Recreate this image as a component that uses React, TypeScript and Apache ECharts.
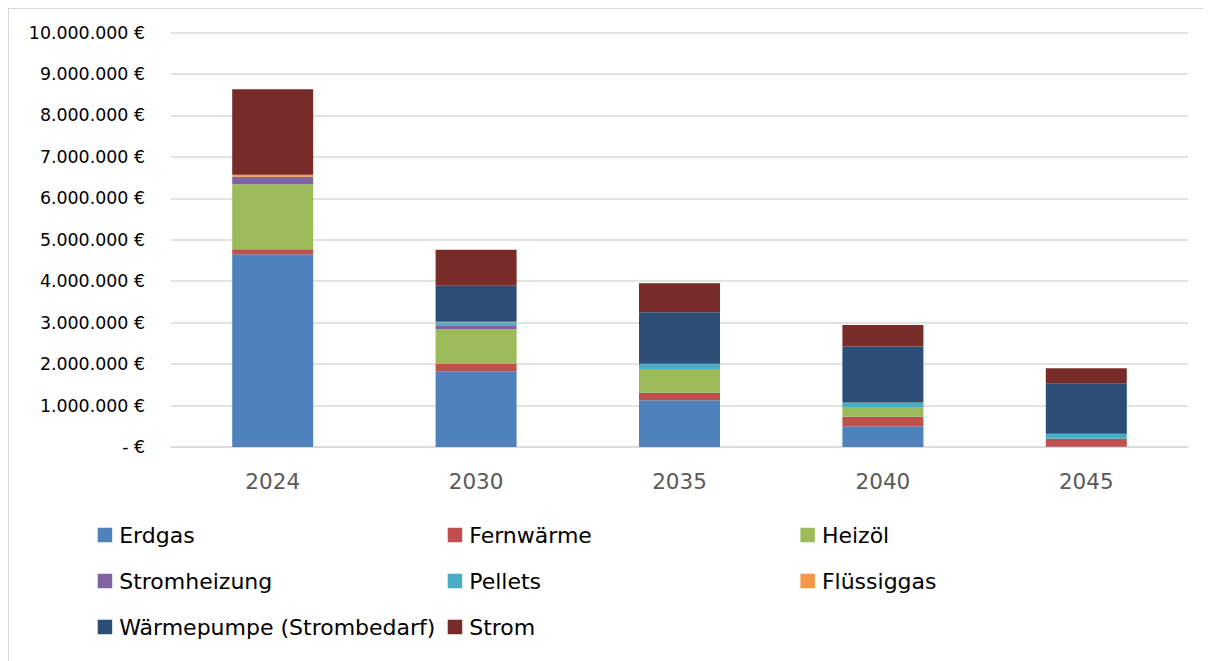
import React, { useEffect, useRef } from "react";
import * as echarts from "echarts";

const years = ["2024", "2030", "2035", "2040", "2045"];
const erdgas = [4650000, 1830000, 1130000, 500000, 10000];
const fernwaerme = [120000, 170000, 180000, 230000, 190000];
const heizoel = [1570000, 840000, 570000, 235000, 0];
const stromheizung = [180000, 100000, 0, 0, 0];
const pellets = [0, 70000, 130000, 110000, 120000];
const fluessiggas = [50000, 10000, 0, 0, 0];
const waermepumpe = [0, 870000, 1240000, 1350000, 1220000];
const strom = [2060000, 870000, 700000, 520000, 360000];

const seriesDefs = [
  { name: "Erdgas", data: erdgas, color: "#4F81BD" },
  { name: "Fernwärme", data: fernwaerme, color: "#C0504D" },
  { name: "Heizöl", data: heizoel, color: "#9BBB59" },
  { name: "Stromheizung", data: stromheizung, color: "#8064A2" },
  { name: "Pellets", data: pellets, color: "#4BACC6" },
  { name: "Flüssiggas", data: fluessiggas, color: "#F79646" },
  { name: "Wärmepumpe (Strombedarf)", data: waermepumpe, color: "#2C4D75" },
  { name: "Strom", data: strom, color: "#772C2A" },
];

const FONT = "DejaVu Sans";

function fmt(v: number) {
  if (v === 0) return "- €";
  return String(v).replace(/\B(?=(\d{3})+(?!\d))/g, ".") + " €";
}

function legendAt(left: number, names: string[]) {
  return {
    orient: "vertical",
    left,
    top: 509,
    itemWidth: 14.5,
    itemHeight: 14.5,
    itemGap: 22,
    icon: "rect",
    selectedMode: false,
    data: names,
    textStyle: {
      fontFamily: FONT,
      fontSize: 22,
      color: "#000",
      lineHeight: 24,
      padding: [0, 0, 0, 2],
    },
  };
}

export default function App() {
  const ref = useRef<HTMLDivElement>(null);
  useEffect(() => {
    document.documentElement.style.overflow = "hidden";
    document.body.style.overflow = "hidden";
    document.body.style.margin = "8px 8px 0 8px";
    const chart = echarts.init(ref.current!, undefined, { renderer: "svg" });
    chart.setOption({
      animation: false,
      grid: { left: 162, right: 24, top: 23.5, bottom: 215, containLabel: false },
      legend: [
        legendAt(83.7, ["Erdgas", "Stromheizung", "Wärmepumpe (Strombedarf)"]),
        legendAt(433.7, ["Fernwärme", "Pellets", "Strom"]),
        legendAt(786.4, ["Heizöl", "Flüssiggas"]),
      ],
      xAxis: {
        type: "category",
        data: years,
        axisTick: { show: false },
        axisLine: { show: true, lineStyle: { color: "#d9d9d9", width: 1.5 } },
        axisLabel: { fontFamily: FONT, fontSize: 21.5, color: "#595959", margin: 23 },
      },
      yAxis: {
        type: "value",
        min: 0,
        max: 10000000,
        interval: 1000000,
        axisLine: { show: false },
        axisTick: { show: false },
        splitLine: { lineStyle: { color: "#d9d9d9", width: 1.5 } },
        axisLabel: {
          fontFamily: FONT,
          fontSize: 17.4,
          color: "#000",
          margin: 26,
          formatter: (v: number) => fmt(v),
        },
      },
      series: seriesDefs.map((s) => ({
        name: s.name,
        type: "bar",
        stack: "total",
        barWidth: 81,
        data: s.data,
        itemStyle: { color: s.color },
      })),
    });
    return () => chart.dispose();
  }, []);
  return (
    <div
      style={{
        width: 1203,
        height: 653,
        borderTop: "1px solid #d9d9d9",
        borderLeft: "1px solid #d9d9d9",
        background: "#fff",
      }}
    >
      <div ref={ref} style={{ width: 1203, height: 653 }} />
    </div>
  );
}
